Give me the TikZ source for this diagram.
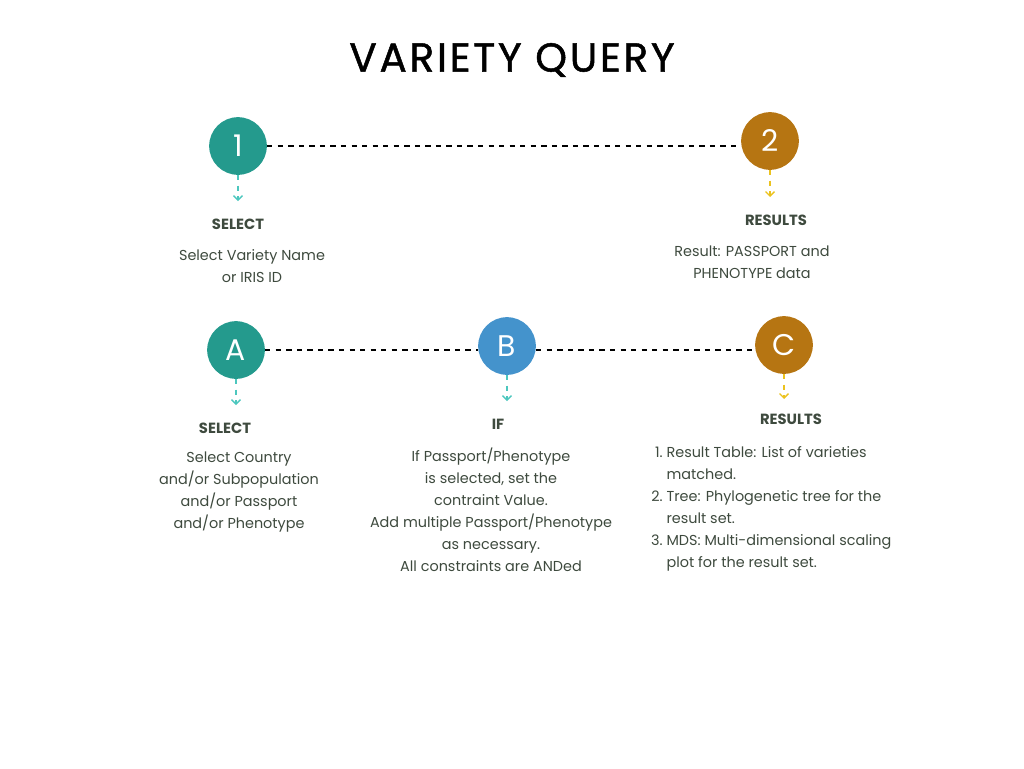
\documentclass[tikz,border=0pt]{standalone}
\usepackage{fontspec}
\setmainfont{Poppins}
\newfontfamily\titlefont[LetterSpace=7,FakeBold=1.2]{Poppins}
\usetikzlibrary{positioning,arrows.meta}
\definecolor{stepteal}{HTML}{249A8D}
\definecolor{stepgold}{HTML}{B67512}
\definecolor{stepblue}{HTML}{4493CC}
\definecolor{arrowteal}{HTML}{4CC7BE}
\definecolor{arrowgold}{HTML}{EBC21E}
\definecolor{textgray}{HTML}{3E4A3E}
\tikzset{
    stepcircle/.style={
        circle,
        minimum size=58\pxu,
        inner sep=0pt,
        text=white,
        font={\fontsize{17pt}{20}\selectfont}
    },
    heading/.style={
        text=textgray,
        font={\fontsize{8.4pt}{12.5}\selectfont\bfseries}
    },
    bodytext/.style={
        text=textgray,
        align=center,
        font={\fontsize{8.2pt}{12.5}\selectfont}
    },
    link/.style={dashed, thick, black},
    drop/.style={dashed, thick, -{Straight Barb[length=2.5pt,width=5pt]}},
}
\newlength{\pxu}
\setlength{\pxu}{0.566pt}

\begin{document}
\begin{tikzpicture}[x=0.02cm, y=-0.02cm]
\useasboundingbox (0,0) rectangle (1024,768);

\node[font={\titlefont\fontsize{23pt}{28}\selectfont}] (title) at (512,60) {VARIETY QUERY};

% top row
\node[stepcircle,fill=stepteal] (one) at (238,146) {1};
\node[stepcircle,fill=stepgold] (two) at (770,141) {2};
\draw[link] (one) -- (two.west |- one);

\coordinate (oneend) at (238,201);
\coordinate (twoend) at (770,197);
\draw[drop,arrowteal] (one) -- (oneend);
\draw[drop,arrowgold] (two) -- (twoend);

\node[heading] (selone) at (238,224) {SELECT};
\node[bodytext] (seltxt) at (252,266) {Select Variety Name\\or IRIS ID};
\node[heading] (resone) at (776,220) {RESULTS};
\node[bodytext] (restxt) at (752,262) {Result: PASSPORT and\\PHENOTYPE data};

% bottom row
\node[stepcircle,fill=stepteal] (a) at (236,350) {A};
\node[stepcircle,fill=stepblue] (b) at (507,346) {B};
\node[stepcircle,fill=stepgold] (c) at (784,345) {C};
\draw[link] (a) -- (b.west |- a);
\draw[link] (b.east |- a) -- (c.west |- a);

\coordinate (aend) at (236,405);
\coordinate (bend) at (507,401);
\coordinate (cend) at (784,399);
\draw[drop,arrowteal] (a) -- (aend);
\draw[drop,arrowteal] (b) -- (bend);
\draw[drop,arrowgold] (c) -- (cend);

\node[heading] (selA) at (225,428) {SELECT};
\node[bodytext] (seltxtA) at (239,492) {Select Country\\and/or Subpopulation\\and/or Passport\\and/or Phenotype};
\node[heading] (ifB) at (498,424) {IF};
\node[bodytext] (iftxt) at (491,510) {If Passport/Phenotype\\is selected, set the\\contraint Value.\\Add multiple Passport/Phenotype\\as necessary.\\All constraints are ANDed};
\node[heading] (resC) at (791,419) {RESULTS};
\node[bodytext,align=left,anchor=north west] (reslist) at (645,436) {%
\renewcommand{\arraystretch}{1.0}%
\begin{tabular}{@{}r@{\ }l@{}}
1. & Result Table: List of varieties\\
   & matched.\\
2. & Tree: Phylogenetic tree for the\\
   & result set.\\
3. & MDS: Multi-dimensional scaling\\
   & plot for the result set.
\end{tabular}};
\end{tikzpicture}
\end{document}
